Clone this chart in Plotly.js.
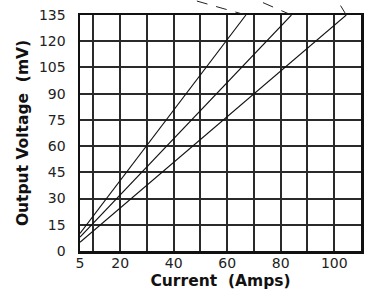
<!DOCTYPE html>
<html>
<head>
<meta charset="utf-8">
<script src="https://cdn.plot.ly/plotly-3.0.1.min.js"></script>
<style>html,body{margin:0;padding:0;background:#fff;}#chart{width:369px;height:291px;}</style>
</head>
<body>
<div id="chart"></div>
<script>
// Data (Current in Amps, Output Voltage in mV)
const currentA = [5, 67];
const voltageA = [10, 135];
const currentB = [5, 84];
const voltageB = [8, 135];
const currentC = [5, 104.5];
const voltageC = [5, 135];

// Leader lines (dashed) run from the top of each line towards labels above the plot
const leaderTopCurrent = [47.3, 71.1, 101.1];

const xTickVals = [5, 20, 40, 60, 80, 100];
const xTickText = ['5', '20', '40', '60', '80', '100'];
const xMinorVals = [10, 30, 50, 70, 90];
const yTickVals = [0, 15, 30, 45, 60, 75, 90, 105, 120, 135];

const xRange = [5, 110];
const yRange = [0, 135];

const lineStyle = {color: '#111', width: 1.1};
const traces = [
  {x: currentA, y: voltageA, mode: 'lines', line: lineStyle, hoverinfo: 'skip'},
  {x: currentB, y: voltageB, mode: 'lines', line: lineStyle, hoverinfo: 'skip'},
  {x: currentC, y: voltageC, mode: 'lines', line: lineStyle, hoverinfo: 'skip'}
];

// leader lines in a thin strip above the plot (x2/y2 share the x scale)
const ends = [currentA[1], currentB[1], currentC[1]];
ends.forEach((xe, i) => {
  traces.push({
    x: [xe, leaderTopCurrent[i]], y: [0, 1], xaxis: 'x2', yaxis: 'y2',
    mode: 'lines', line: {color: '#222', width: 1, dash: '11px,9px'}, hoverinfo: 'skip'
  });
});

const mainTop = 0.9402;
const font = {family: '"DejaVu Sans", Arial, sans-serif', color: '#111'};
const layout = {
  width: 369, height: 291,
  margin: {l: 80, r: 8, t: 0, b: 40},
  paper_bgcolor: '#fff', plot_bgcolor: '#fff',
  showlegend: false,
  font: font,
  xaxis: {
    range: xRange,
    tickvals: xTickVals, ticktext: xTickText,
    showgrid: true, gridcolor: '#2a2a2a', gridwidth: 2,
    minor: {tickvals: xMinorVals, showgrid: true, gridcolor: '#2a2a2a', gridwidth: 2, ticks: ''},
    zeroline: false,
    showline: true, linecolor: '#111', linewidth: 2.5, mirror: true,
    ticks: '', ticklen: 0, ticklabelstandoff: -2,
    tickfont: {family: font.family, size: 14, color: '#222'},
    title: {text: 'Current  (Amps)', font: {family: font.family, size: 15.5, color: '#111', weight: 'bold'}, standoff: 5}
  },
  yaxis: {
    range: yRange, domain: [0, mainTop],
    tickvals: yTickVals,
    showgrid: true, gridcolor: '#2a2a2a', gridwidth: 2,
    zeroline: false,
    showline: true, linecolor: '#111', linewidth: 2.5, mirror: true,
    ticks: '', ticklen: 0, ticklabelstandoff: 9,
    tickfont: {family: font.family, size: 14, color: '#222'},
    title: {text: 'Output Voltage  (mV)', font: {family: font.family, size: 15.5, color: '#111', weight: 'bold'}, standoff: 7}
  },
  xaxis2: {range: xRange, anchor: 'y2', visible: false, showgrid: false, zeroline: false},
  yaxis2: {range: [0, 1], domain: [mainTop, 1], anchor: 'x2', visible: false, showgrid: false, zeroline: false}
};

Plotly.newPlot('chart', traces, layout, {staticPlot: true, displayModeBar: false});
</script>
</body>
</html>
